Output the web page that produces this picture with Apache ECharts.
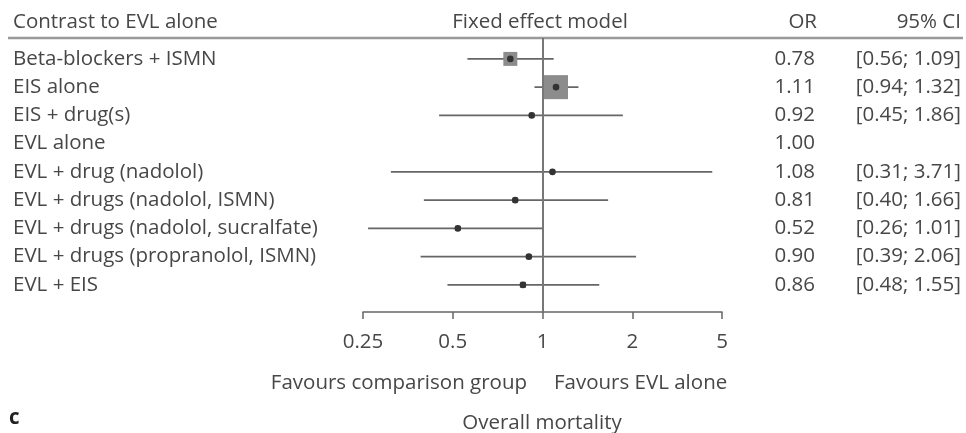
<!DOCTYPE html>
<html>
<head>
<meta charset="utf-8">
<script src="https://cdn.jsdelivr.net/npm/echarts@6/dist/echarts.min.js"></script>
<style>
  html, body { margin: 0; padding: 0; background: #fff; }
  #chart { width: 966px; height: 433px; }
</style>
</head>
<body>
<div id="chart"></div>
<script>
// rows of the forest plot, top to bottom
var studies = [
  'Beta-blockers + ISMN',
  'EIS alone',
  'EIS + drug(s)',
  'EVL alone',
  'EVL + drug (nadolol)',
  'EVL + drugs (nadolol, ISMN)',
  'EVL + drugs (nadolol, sucralfate)',
  'EVL + drugs (propranolol, ISMN)',
  'EVL + EIS'
];
var orValues = [0.78, 1.11, 0.92, 1.00, 1.08, 0.81, 0.52, 0.90, 0.86];
var ciLower  = [0.56, 0.94, 0.45, null, 0.31, 0.40, 0.26, 0.39, 0.48];
var ciUpper  = [1.09, 1.32, 1.86, null, 3.71, 1.66, 1.01, 2.06, 1.55];
// relative weights (box area)
var weights  = [21, 62, 3, 0, 1, 3, 3, 3, 4];

var tickValues = [0.25, 0.5, 1, 2, 4];
var tickLabels = ['0.25', '0.5', '1', '2', '5'];

var FONT = '"Open Sans", "Noto Sans", sans-serif';
var FS = 20.5;
var TXT = '#474747';

function fmt(v) { return v.toFixed(2); }

var data = studies.map(function (s, i) {
  return [orValues[i], i, ciLower[i], ciUpper[i], weights[i]];
});

var chart = echarts.init(document.getElementById('chart'));

function txt(text, x, y, align) {
  return {
    type: 'text',
    style: { text: text, x: x, y: y, align: align, verticalAlign: 'middle',
             textAlign: align, textVerticalAlign: 'middle',
             fontFamily: FONT, fontSize: FS, fill: TXT }
  };
}

var option = {
  animation: false,
  grid: { left: 363, right: 244, top: 38, bottom: 121 },
  xAxis: {
    type: 'log',
    logBase: 2,
    min: 0.25,
    max: 4,
    axisLine: { show: true, onZero: false, lineStyle: { color: '#666', width: 1.5 } },
    axisTick: { show: true, length: 7, lineStyle: { color: '#666', width: 1.5 } },
    splitLine: { show: false },
    axisLabel: {
      margin: 20,
      color: TXT,
      fontFamily: FONT,
      fontSize: FS,
      formatter: function (v) {
        for (var k = 0; k < tickValues.length; k++) {
          if (Math.abs(v - tickValues[k]) < 1e-6) return tickLabels[k];
        }
        return '';
      }
    }
  },
  yAxis: {
    type: 'value',
    inverse: true,
    min: -0.74,
    max: 8.96,
    show: false
  },
  series: [
    {
      type: 'line',
      data: [],
      markLine: {
        silent: true,
        symbol: ['none', 'none'],
        label: { show: false },
        lineStyle: { color: '#777', width: 2, type: 'solid' },
        data: [{ xAxis: 1 }]
      }
    },
    {
      type: 'custom',
      clip: false,
      data: data,
      renderItem: function (params, api) {
        var i = api.value(1);
        var or = api.value(0);
        var lo = api.value(2);
        var hi = api.value(3);
        var w = api.value(4);
        var c = api.coord([or, i]);
        var y = c[1];
        var children = [];
        children.push(txt(studies[i], 13, y, 'left'));
        children.push(txt(fmt(orValues[i]), 815, y, 'right'));
        if (ciLower[i] != null) {
          children.push(txt('[' + fmt(ciLower[i]) + '; ' + fmt(ciUpper[i]) + ']', 961, y, 'right'));
          var p1 = api.coord([lo, i]);
          var p2 = api.coord([hi, i]);
          children.push({
            type: 'line',
            shape: { x1: p1[0], y1: y, x2: p2[0], y2: y },
            style: { stroke: '#666', lineWidth: 1.6 }
          });
          var s = 3.05 * Math.sqrt(w);
          children.push({
            type: 'rect',
            shape: { x: c[0] - s / 2, y: y - s / 2, width: s, height: s },
            style: { fill: '#8c8c8c' }
          });
          children.push({
            type: 'circle',
            shape: { cx: c[0], cy: y, r: 3.3 },
            style: { fill: '#333' }
          });
        }
        return { type: 'group', children: children };
      }
    }
  ],
  graphic: [
    { type: 'text', x: 13, y: 22,
      style: { text: 'Contrast to EVL alone', font: FS + 'px ' + FONT, fill: TXT,
               align: 'left', verticalAlign: 'middle' } },
    { type: 'text', x: 540, y: 22,
      style: { text: 'Fixed effect model', font: FS + 'px ' + FONT, fill: TXT,
               align: 'center', verticalAlign: 'middle' } },
    { type: 'text', x: 817, y: 22,
      style: { text: 'OR', font: FS + 'px ' + FONT, fill: TXT, align: 'right', verticalAlign: 'middle' } },
    { type: 'text', x: 961, y: 22,
      style: { text: '95% CI', font: FS + 'px ' + FONT, fill: TXT, align: 'right', verticalAlign: 'middle' } },
    { type: 'line', shape: { x1: 8, y1: 38, x2: 963, y2: 38 },
      style: { stroke: '#999', lineWidth: 2.5 } },
    { type: 'text', x: 527, y: 383,
      style: { text: 'Favours comparison group', font: FS + 'px ' + FONT, fill: TXT,
               align: 'right', verticalAlign: 'middle' } },
    { type: 'text', x: 554, y: 383,
      style: { text: 'Favours EVL alone', font: FS + 'px ' + FONT, fill: TXT,
               align: 'left', verticalAlign: 'middle' } },
    { type: 'text', x: 542, y: 423,
      style: { text: 'Overall mortality', font: FS + 'px ' + FONT, fill: TXT,
               align: 'center', verticalAlign: 'middle' } },
    { type: 'text', x: 9, y: 418,
      style: { text: 'c', font: 'bold ' + FS + 'px ' + FONT, fill: '#222',
               align: 'left', verticalAlign: 'middle' } }
  ]
};

chart.setOption(option);
</script>
</body>
</html>
